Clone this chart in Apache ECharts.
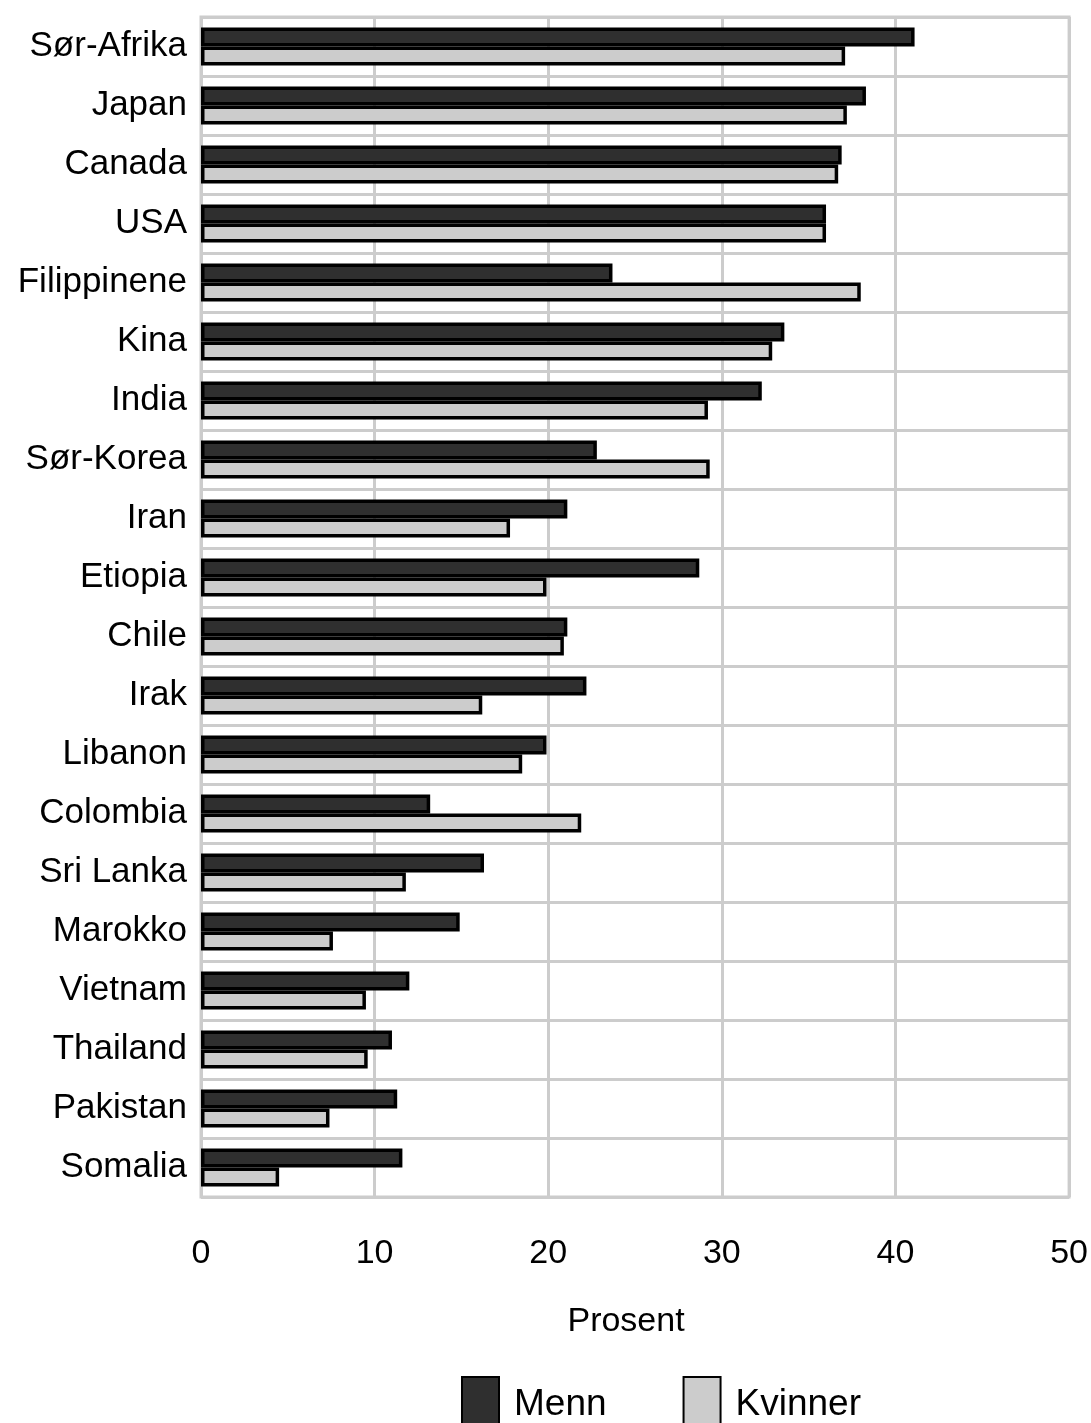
<!DOCTYPE html>
<html>
<head>
<meta charset="utf-8">
<script src="https://cdn.jsdelivr.net/npm/echarts@6/dist/echarts.min.js"></script>
<style>
html,body{margin:0;padding:0;background:#fff;}
#c{width:1091px;height:1423px;}
</style>
</head>
<body>
<div id="c"></div>
<script>
const categories = ["Sør-Afrika","Japan","Canada","USA","Filippinene","Kina","India","Sør-Korea","Iran","Etiopia","Chile","Irak","Libanon","Colombia","Sri Lanka","Marokko","Vietnam","Thailand","Pakistan","Somalia"];
const menn =    [41.1,38.3,36.9,36.0,23.7,33.6,32.3,22.8,21.1,28.7,21.1,22.2,19.9,13.2,16.3,14.9,12.0,11.0,11.3,11.6];
const kvinner = [37.1,37.2,36.7,36.0,38.0,32.9,29.2,29.3,17.8,19.9,20.9,16.2,18.5,21.9,11.8,7.6,9.5,9.6,7.4,4.5];
const xTicks = [0,10,20,30,40,50];

const font = "Liberation Sans, Arial, sans-serif";
const chart = echarts.init(document.getElementById('c'));
chart.setOption({
  animation:false,
  backgroundColor:'#fff',
  textStyle:{fontFamily:font,color:'#000'},
  grid:{left:201,right:21,top:17,bottom:226,show:true,borderColor:'#cccccc',borderWidth:3,backgroundColor:'transparent'},
  legend:{
    left:456, top:1371, icon:'rect', itemWidth:37, itemHeight:56, itemGap:76,
    textStyle:{fontSize:37,fontFamily:font,color:'#000',padding:[6,0,0,10]},
    data:['Menn','Kvinner']
  },
  xAxis:{
    type:'value', min:xTicks[0], max:xTicks[xTicks.length-1], interval:10,
    name:'Prosent', nameLocation:'middle', nameGap:108,
    nameTextStyle:{fontSize:34,fontFamily:font,color:'#000',padding:[0,18,0,0]},
    axisLine:{show:false}, axisTick:{show:false},
    axisLabel:{fontSize:34,fontFamily:font,color:'#000',margin:40},
    splitLine:{show:true,lineStyle:{color:'#cccccc',width:3}}
  },
  yAxis:{
    type:'category', data:categories, inverse:true,
    axisLine:{show:false}, axisTick:{show:false},
    axisLabel:{fontSize:35,fontFamily:font,color:'#000',margin:14},
    splitLine:{show:true,lineStyle:{color:'#cccccc',width:3}}
  },
  series:[
    {name:'Menn',type:'bar',data:menn,barWidth:19,barGap:'0%',
     itemStyle:{color:'#2f2f2f',borderColor:'#000',borderWidth:3.5}},
    {name:'Kvinner',type:'bar',data:kvinner,barWidth:19,barGap:'0%',
     itemStyle:{color:'#cccccc',borderColor:'#000',borderWidth:3.5}}
  ]
});
</script>
</body>
</html>
